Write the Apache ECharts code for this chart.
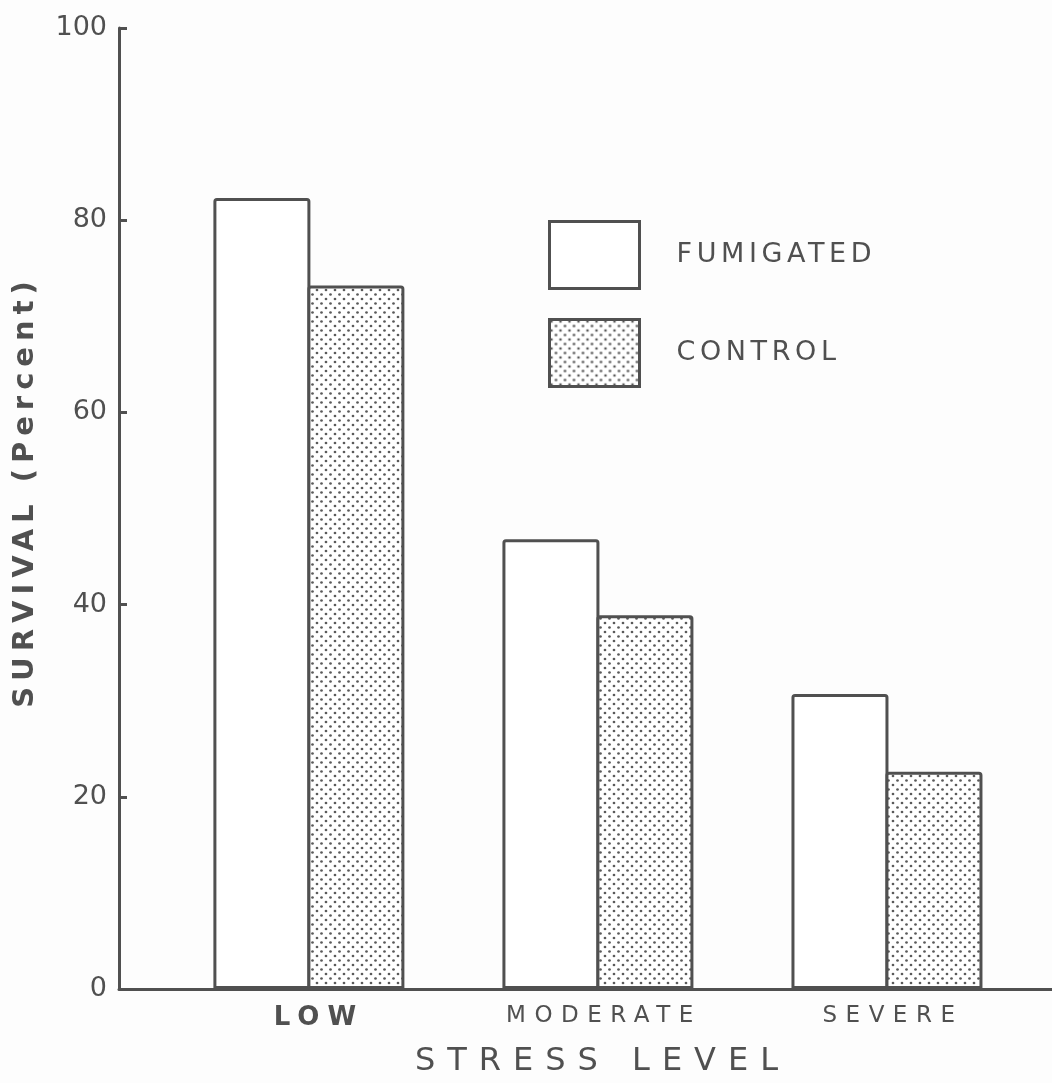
<!DOCTYPE html>
<html>
<head>
<meta charset="utf-8">
<script src="https://cdn.jsdelivr.net/npm/echarts@6/dist/echarts.min.js"></script>
<style>
  html, body { margin: 0; padding: 0; background: #fdfdfd; }
  #chart { width: 1052px; height: 1083px; }
</style>
</head>
<body>
<div id="chart"></div>
<script>
var categories = ['LOW', 'MODERATE', 'SEVERE'];
var categoryPos = [1, 2, 3];
var fumigated = [82.3, 46.8, 30.7];
var control = [73.2, 38.9, 22.6];
var seriesNames = ['FUMIGATED', 'CONTROL'];
var xTitle = 'STRESS LEVEL';
var yTitle = 'SURVIVAL (Percent)';

var ink = '#505050';
var font = 'DejaVu Sans';

// the old lettering is widely spaced: give canvas text a letter spacing per string
var spacing = {};
spacing[seriesNames[0]] = 4.6;
spacing[seriesNames[1]] = 4.6;
spacing.LOW = 8;
spacing.MODERATE = 8.5;
spacing.SEVERE = 8.5;
spacing[xTitle] = 12;
spacing[yTitle] = 6;

(function () {
	var proto = CanvasRenderingContext2D.prototype;
	if (!('letterSpacing' in proto)) return;
	var fill = proto.fillText;
	var measure = proto.measureText;
	proto.fillText = function (text) {
		this.letterSpacing = (spacing[text] || 0) + 'px';
		return fill.apply(this, arguments);
	};
	proto.measureText = function (text) {
		this.letterSpacing = (spacing[text] || 0) + 'px';
		return measure.apply(this, arguments);
	};
})();

// stipple fill for the control bars
function makeDots() {
	var c = document.createElement('canvas');
	c.width = 9; c.height = 9;
	var ctx = c.getContext('2d');
	ctx.fillStyle = '#ffffff';
	ctx.fillRect(0, 0, 9, 9);
	ctx.fillStyle = '#5a5a5a';
	ctx.beginPath(); ctx.arc(2, 2, 1.35, 0, Math.PI * 2); ctx.fill();
	ctx.beginPath(); ctx.arc(6.5, 6.5, 1.35, 0, Math.PI * 2); ctx.fill();
	return c;
}

function pairs(vals) {
	var out = [];
	for (var i = 0; i < vals.length; i++) {
		out.push([categoryPos[i], vals[i]]);
	}
	return out;
}

var chart = echarts.init(document.getElementById('chart'));

var option = {
	backgroundColor: '#fdfdfd',
	animation: false,
	textStyle: { fontFamily: font, color: ink },
	grid: { left: 119, right: 0, top: 28, bottom: 94, outerBoundsMode: 'none', containLabel: false },
	legend: {
		orient: 'vertical',
		left: 548,
		top: 220,
		padding: 0,
		itemWidth: 90,
		itemHeight: 67,
		itemGap: 28,
		icon: 'rect',
		data: seriesNames,
		itemStyle: { borderWidth: 3, borderColor: ink },
		textStyle: {
			fontFamily: font,
			fontSize: 27,
			color: ink,
			padding: [0, 0, 0, 32]
		}
	},
	xAxis: {
		type: 'value',
		min: 0.343,
		max: 3.571,
		splitLine: { show: false },
		axisTick: { show: false },
		axisLine: { show: true, onZero: false, lineStyle: { color: ink, width: 3 } },
		axisLabel: {
			customValues: categoryPos,
			margin: 16,
			fontSize: 23,
			color: ink,
			padding: [0, 0, 0, 12],
			formatter: function (v) {
				var name = categories[Math.round(v) - 1] || '';
				return name === 'LOW' ? '{b|' + name + '}' : name;
			},
			rich: {
				b: { fontFamily: font, fontSize: 26, fontWeight: 'bold', color: ink, padding: [0, 0, 0, 8] }
			}
		},
		name: xTitle,
		nameLocation: 'middle',
		nameGap: 57,
		nameTextStyle: {
			fontFamily: font,
			fontSize: 32,
			color: ink,
			padding: [0, 0, 0, 34]
		}
	},
	yAxis: {
		type: 'value',
		min: 0,
		max: 100,
		interval: 20,
		splitLine: { show: false },
		axisLine: { show: true, lineStyle: { color: ink, width: 3 } },
		axisTick: { show: true, inside: true, length: 8, lineStyle: { color: ink, width: 3 } },
		axisLabel: { margin: 12, fontSize: 27, color: ink },
		name: yTitle,
		nameLocation: 'middle',
		nameRotate: 90,
		nameGap: 79,
		nameTextStyle: {
			fontFamily: font,
			fontSize: 29,
			fontWeight: 'bold',
			color: ink,
			padding: [0, 0, 0, 34]
		}
	},
	series: [
		{
			name: seriesNames[0],
			type: 'bar',
			barWidth: 97,
			barGap: '-3.1%',
			data: pairs(fumigated),
			itemStyle: { color: '#ffffff', borderColor: ink, borderWidth: 3, borderRadius: [2, 2, 0, 0] }
		},
		{
			name: seriesNames[1],
			type: 'bar',
			barWidth: 97,
			barGap: '-3.1%',
			data: pairs(control),
			itemStyle: {
				color: { image: makeDots(), repeat: 'repeat' },
				borderColor: ink,
				borderWidth: 3,
				borderRadius: [2, 2, 0, 0]
			}
		}
	]
};

chart.setOption(option);
</script>
</body>
</html>
